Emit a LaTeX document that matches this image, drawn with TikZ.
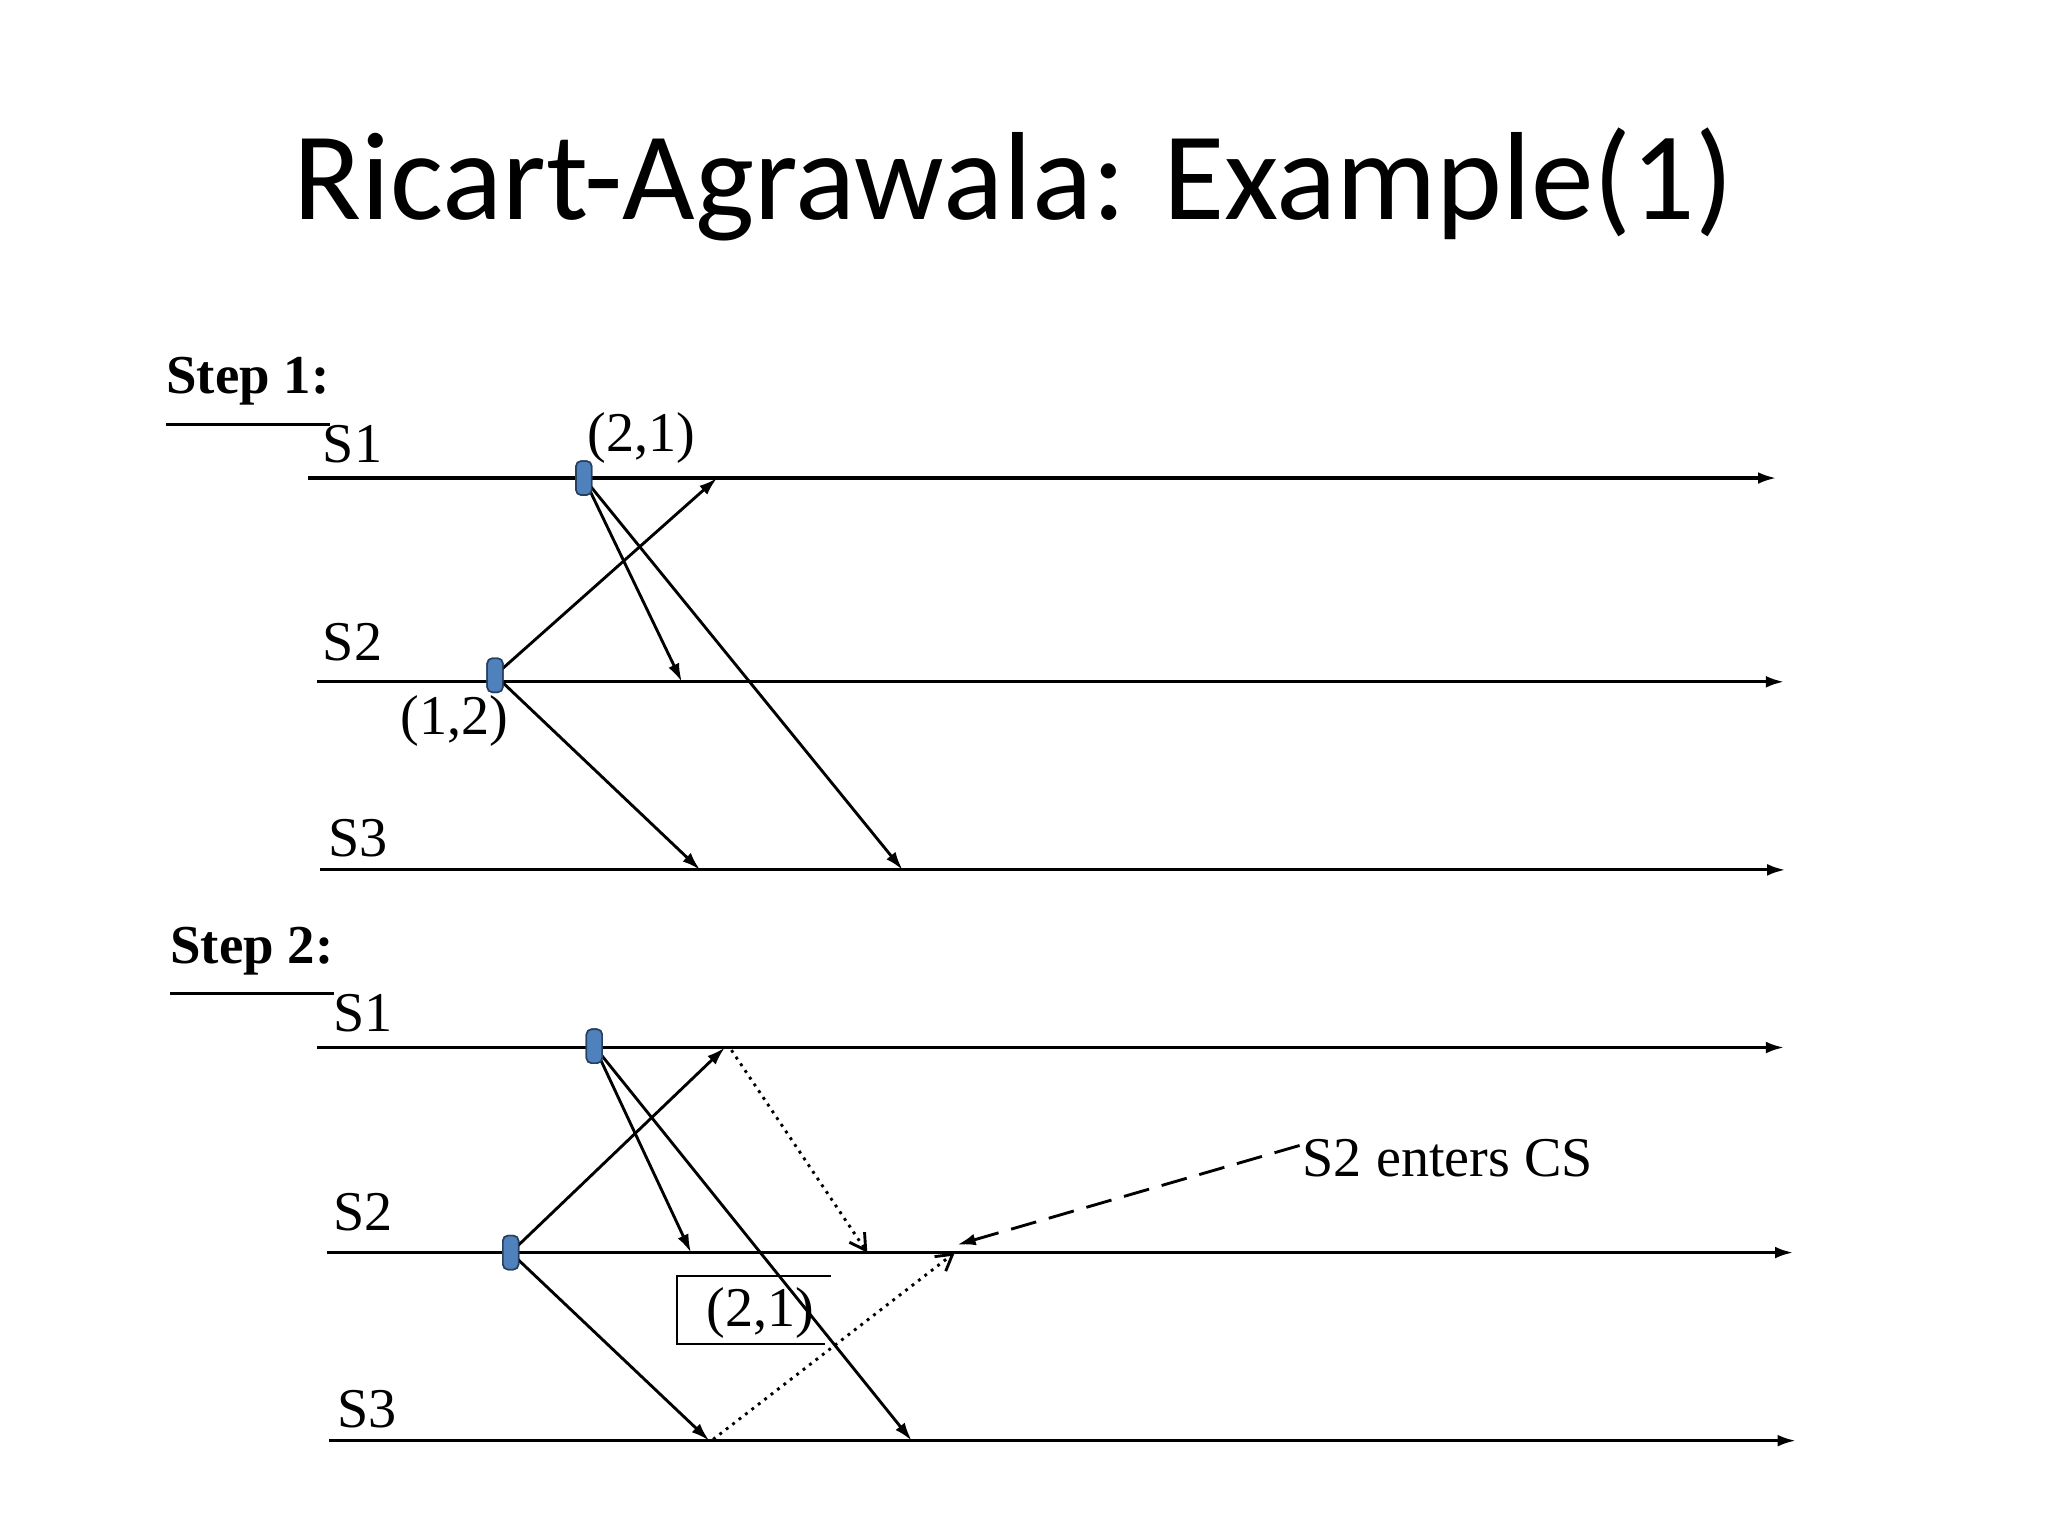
\documentclass[tikz,border=0pt]{standalone}
\usepackage{fontspec}
\setmainfont{Liberation Serif}
\newfontfamily\titlefont{Carlito}
\usetikzlibrary{arrows.meta,shapes.misc}
\definecolor{mk}{HTML}{4F81BD}
\tikzset{
 tl/.style={line width=1.2pt,-{Latex[length=7pt,width=4.5pt]}},
 msg/.style={line width=1.1pt,-{Latex[length=7pt,width=4.5pt]}},
 dmsg/.style={line width=1.1pt,dotted,-{Straight Barb[length=6pt,width=7pt]}},
 marker/.style={rectangle,rounded corners=2pt,fill=mk,draw=mk!50!black,line width=0.6pt,minimum width=6pt,minimum height=13pt,inner sep=0pt},
 lab/.style={font=\fontsize{21.5}{24}\selectfont,inner sep=0pt},
 steplab/.style={font=\fontsize{21}{24}\selectfont\bfseries,inner sep=0pt,anchor=west},
}
\newcommand{\ulx}[1]{\underline{#1}}
\begin{document}
\begin{tikzpicture}[x=0.5pt,y=-0.5pt]
\useasboundingbox (0,0) rectangle (1568,1176);
\node[font=\titlefont\fontsize{48}{54}\selectfont] (title) at (776,141) {Ricart-Agrawala: Example(1)};
% Step 1
\node[steplab] (st1) at (127,292) {Step 1:};
\draw[line width=1.2pt] ([yshift=-7pt]st1.south west) -- ([yshift=-7pt]st1.south east);
\coordinate (a1s) at (236,366); \coordinate (a1e) at (1360,366);
\coordinate (a2s) at (243,522); \coordinate (a2e) at (1366,522);
\coordinate (a3s) at (245,666); \coordinate (a3e) at (1367,666);
\draw[tl] (a1s) -- (a1e); \draw[tl] (a2s) -- (a2e); \draw[tl] (a3s) -- (a3e);
\node[lab] (l11) at (270,340) {S1};
\node[lab] (l12) at (270,492) {S2};
\node[lab] (l13) at (274,642) {S3};
\node[lab] (t21) at (491,335) {(2,1)};
\node[lab] (t12) at (348,552) {(1,2)};
\coordinate (p1a) at (549,366); \coordinate (p1b) at (522,522);
\coordinate (p1c) at (691,666); \coordinate (p1d) at (536,666);
\node[marker] (m11) at (447,366) {};
\node[marker] (m12) at (379,517) {};
\draw[msg] (m12.center) -- (p1a);
\draw[msg] (m11.center) -- (p1b);
\draw[msg] (m11.center) -- (p1c);
\draw[msg] (m12.center) -- (p1d);
\node[marker] at (447,366) {};
\node[marker] at (379,517) {};
% Step 2
\node[steplab] (st2) at (130,728) {Step 2:};
\draw[line width=1.2pt] ([yshift=-7pt]st2.south west) -- ([yshift=-7pt]st2.south east);
\coordinate (b1s) at (243,802); \coordinate (b1e) at (1366,802);
\coordinate (b2s) at (250,959); \coordinate (b2e) at (1373,959);
\coordinate (b3s) at (252,1103); \coordinate (b3e) at (1375,1103);
\draw[tl] (b1s) -- (b1e); \draw[tl] (b2s) -- (b2e); \draw[tl] (b3s) -- (b3e);
\node[lab] (l21) at (278,776) {S1};
\node[lab] (l22) at (278,928) {S2};
\node[lab] (l23) at (281,1079) {S3};
\coordinate (q1a) at (555,802); \coordinate (q1b) at (529,959);
\coordinate (q1c) at (698,1103); \coordinate (q1d) at (543,1103);
\node[marker] (m21) at (455,801) {};
\node[marker] (m22) at (391,959) {};
\draw[msg] (m22.center) -- (q1a);
\draw[msg] (m21.center) -- (q1b);
\draw[msg] (m21.center) -- (q1c);
\draw[msg] (m22.center) -- (q1d);
\node[marker] at (455,801) {};
\node[marker] at (391,959) {};
% replies
\coordinate (r1s) at (560,804); \coordinate (r1e) at (664,959);
\coordinate (r2s) at (546,1102); \coordinate (r2e) at (731,959);
\draw[dmsg] (r1s) -- (r1e);
\draw[dmsg] (r2s) -- (r2e);
% box
\coordinate (bx1) at (518,977); \coordinate (bx2) at (636,977);
\coordinate (bx3) at (518,1029); \coordinate (bx4) at (632,1029);
\draw[line width=0.8pt] (bx2) -- (bx1) -- (bx3) -- (bx4);
\node[lab] (t21b) at (582,1005) {(2,1)};
% CS
\node[lab,anchor=west] (cs) at (997,887) {S2 enters CS};
\coordinate (csend) at (733,953);
\draw[line width=1.1pt,dash pattern=on 10pt off 5pt,-{Latex[length=7pt,width=4.5pt]}] (cs.west) ++(-2,-10) -- (csend);
\end{tikzpicture}
\end{document}
